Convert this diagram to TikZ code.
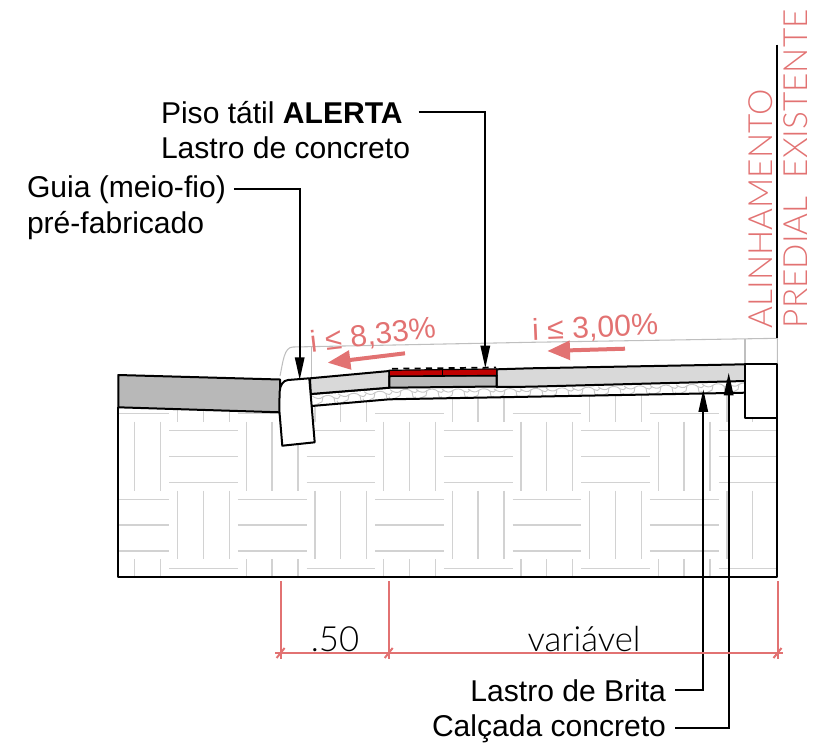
\documentclass[tikz,border=0pt]{standalone}
\usepackage{fontspec}
\setmainfont{Liberation Sans}
\newfontfamily\thinf{Lato Light}
\usetikzlibrary{arrows.meta,calc}
\definecolor{dimred}{HTML}{E27272}
\definecolor{hatchg}{HTML}{D2D2D2}
\definecolor{asph}{HTML}{B8B8B8}
\definecolor{slabg}{HTML}{D9D9D9}
\definecolor{tactred}{HTML}{C00000}
\tikzset{
  outline/.style={draw=black,line width=1.5pt,line join=round},
  hatch/.style={draw=hatchg,line width=1.15pt},
  thingrey/.style={draw=black!25,line width=.8pt},
  leader/.style={draw=black,line width=1.5pt,-{Triangle[length=17pt,width=7pt]}},
  label/.style={inner sep=0pt,outer sep=0pt,font=\fontsize{22.55pt}{27pt}\selectfont},
  redtext/.style={inner sep=0pt,outer sep=0pt,text=dimred,font=\fontsize{22.7pt}{27pt}\selectfont},
  thintext/.style={inner sep=0pt,outer sep=0pt,font=\thinf\fontsize{26pt}{30pt}\selectfont},
  dimline/.style={draw=dimred,line width=1.5pt},
  slope/.style={draw=dimred,line width=3pt,-{Triangle[length=17pt,width=14pt]}},
  stone/.style={draw=black!22,line width=.7pt}
}
\begin{document}
\begin{tikzpicture}[x=0.75pt,y=-0.75pt]
\useasboundingbox (0,0) rectangle (835,747);
% soil hatch
\begin{scope}
  \clip (118.3,407.3) -- (280,412.3) -- (311.7,406) -- (389.3,399.3) -- (530,396.7) -- (745,392.7) -- (745,418) -- (777.3,418) -- (777.3,576.5) -- (118.3,576.5) -- cycle;
  \foreach \k in {-1,...,8}{
    \foreach \r in {0,...,3}{
      \pgfmathsetmacro{\xa}{169.3+68.67*\k}
      \pgfmathsetmacro{\ya}{421.7+68.8*(\r-1)}
      \pgfmathtruncatemacro{\tileodd}{mod(\k+\r+20,2)}
      \ifnum\tileodd=0
        \foreach \o in {8.4,34,60}{
          \draw[hatch] (\xa+\o,\ya) -- (\xa+\o,\ya+68.8);
        }
      \else
        \foreach \o in {9,34.6,60.6}{
          \draw[hatch] (\xa,\ya+\o) -- (\xa+68.67,\ya+\o);
        }
      \fi
    }
  }
\end{scope}
% ground outline
\draw[outline] (118.3,407.3) -- (118.3,576.5) -- (777.3,576.5) -- (777.3,418);
% asphalt
\path[fill=asph,outline] (118.3,375) -- (280,379.5) -- (280,412.3) -- (118.3,407.3) -- cycle;
% thin grey surface offset
\draw[thingrey] (280,376) .. controls (283,362) and (284,347) .. (293,347) -- (530,342.3) -- (777.3,338.3) -- (777.3,364.3);
\draw[thingrey] (745,338.8) -- (745,364.3);
\draw[thingrey] (311.7,346.5) -- (311.7,378);
% gravel strip
\begin{scope}
  \clip (310.7,394) -- (389.3,387.7) -- (530,386.7) -- (745,381) -- (745,392.7) -- (530,396.7) -- (389.3,399.3) -- (311.7,406) -- cycle;
  \foreach \x in {313,339,...,745}{
    \pgfmathsetmacro{\yy}{\x<389.3 ? 394-(\x-310.7)*0.0801 : (\x<530 ? 387.7-(\x-389.3)*0.0071 : 386.7-(\x-530)*0.0265)}
    \begin{scope}[shift={(\x,\yy)}]
      \draw[stone] (-1,2) .. controls (3,5) and (7,6) .. (10,3) .. controls (13,1) and (18,1) .. (21,4) .. controls (23,6) and (26,5) .. (27,2);
      \draw[stone] (10,3) -- (9,8) -- (3,11) .. controls (-1,12) .. (-2,9);
      \draw[stone] (21,4) -- (22,9) -- (26,12);
    \end{scope}
  }
\end{scope}
\draw[outline] (310.7,394) -- (389.3,387.7);
\draw[outline] (311.7,406) -- (389.3,399.3) -- (530,396.7) -- (745,392.7);
% concrete slabs
\path[fill=slabg,outline] (310,378.3) -- (389.3,371) -- (389.3,387.7) -- (310.7,394) -- cycle;
\path[fill=slabg,outline] (496.7,369.3) -- (530,368.3) -- (745,364.3) -- (745,381) -- (530,386.7) -- (496.7,387) -- cycle;
% tactile paving
\path[fill=asph,outline] (389.3,376) -- (496.7,375.5) -- (496.7,386.5) -- (389.3,387.7) -- cycle;
\path[fill=tactred,draw=black,line width=.9pt] (389.3,370.3) -- (496.7,368.9) -- (496.7,375.5) -- (389.3,376) -- cycle;
\draw[black,line width=.9pt] (442.7,369.6) -- (442.7,375.7);
\draw[black,line width=1.3pt,dash pattern=on 4.5pt off 4pt] (392,368.7) -- (496,367.5);
% curb
\path[fill=white,outline] (288,380) -- (309.3,378.3) -- (314.7,442.3) -- (282.3,445.7) -- (279.3,410) -- (279.6,392) .. controls (280,385) and (283,380.5) .. (288,380) -- cycle;
% building block
\path[fill=white,outline] (745,364.3) -- (777.3,364.3) -- (777.3,418.3) -- (745,418.3) -- cycle;
% alignment line
\coordinate (algntop) at (777.3,44.5);
\coordinate (algnbot) at (777.3,338.3);
\draw[outline] (algntop) -- (algnbot);
% tips
\coordinate (tipGuia) at (299.7,380);
\coordinate (tipPiso) at (485.3,368.3);
\coordinate (tipBrita) at (703.3,389.3);
\coordinate (tipCalc) at (728.7,372.7);
% labels
\node[label,anchor=base west] (piso) at (161,123) {Piso tátil \textbf{ALERTA}};
\node[label,anchor=base west] (lastroc) at (161,158) {Lastro de concreto};
\node[label,anchor=base west] (guia) at (27,197) {Guia (meio-fio)};
\node[label,anchor=base west] (prefab) at (27,233) {pré-fabricado};
\node[label,anchor=base east] (brita) at (666,701) {Lastro de Brita};
\node[label,anchor=base east] (calcada) at (666,736) {Calçada concreto};
\draw[leader] ([xshift=12pt]piso.east) -| (tipPiso);
\draw[leader] ([xshift=6pt]guia.east) -| (tipGuia);
\draw[leader] ([xshift=7pt]brita.east) -| (tipBrita);
\draw[leader] ([xshift=7pt]calcada.east) -| (tipCalc);
% slope
\node[redtext,anchor=base,rotate=6.6] (i1) at (374,345) {i ≤ 8,33\%};
\node[redtext,anchor=base,rotate=2.4] (i2) at (595.5,337.5) {i ≤ 3,00\%};
\coordinate (s1a) at (405,353.3);
\coordinate (s1b) at (327.7,362.7);
\coordinate (s2a) at (625,348.7);
\coordinate (s2b) at (547.3,351);
\draw[slope] (s1a) -- (s1b);
\draw[slope] (s2a) -- (s2b);
% alignment text
\node[thintext,text=dimred,anchor=base west,rotate=90] (alin) at (772,328) {\fontsize{25pt}{30pt}\selectfont ALINHAMENTO};
\node[thintext,text=dimred,anchor=base west,rotate=90] (pred) at (807,328) {\fontsize{25pt}{30pt}\selectfont PREDIAL\ \ EXISTENTE};
% dimensions
\coordinate (d1t) at (280.6,581);
\coordinate (d2t) at (388.7,581);
\coordinate (d3t) at (777.5,581);
\coordinate (d1) at (280.6,653);
\coordinate (d2) at (388.7,653);
\coordinate (d3) at (777.5,653);
\coordinate (dl) at (275,653);
\coordinate (dr) at (783,653);
\draw[dimline] (dl) -- (dr);
\foreach \n in {1,2,3}{
  \draw[dimline] (d\n t) -- ($(d\n)+(0,6)$);
  \draw[dimline] ($(d\n)+(-4,5)$) -- ($(d\n)+(4,-5)$);
}
\node[thintext,anchor=base] (d50) at (335,651) {.50};
\node[thintext,anchor=base] (dvar) at (584,651) {variável};
\end{tikzpicture}
\end{document}
